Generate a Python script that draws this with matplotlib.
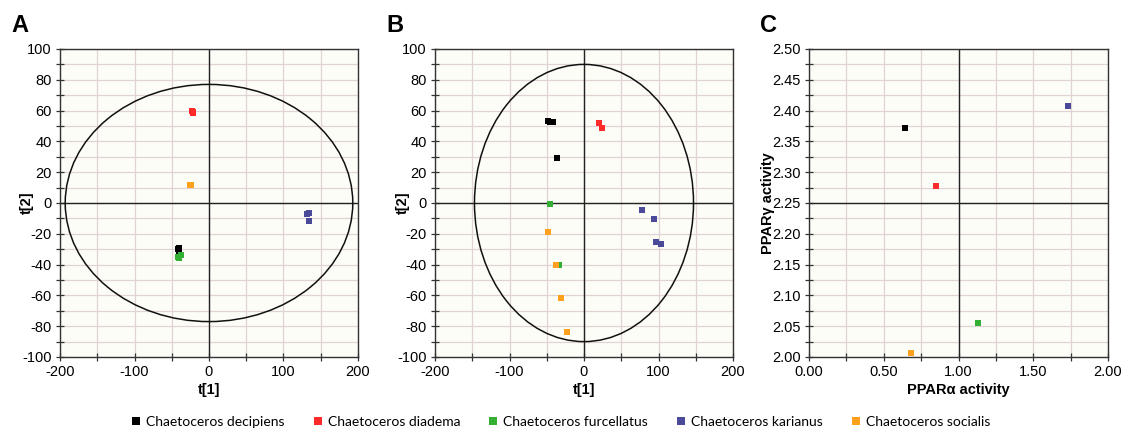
import matplotlib
matplotlib.use("Agg")
import matplotlib.pyplot as plt
from matplotlib.patches import Ellipse
from matplotlib.lines import Line2D
from matplotlib.ticker import MultipleLocator, FormatStrFormatter

species = ["Chaetoceros decipiens", "Chaetoceros diadema", "Chaetoceros furcellatus",
           "Chaetoceros karianus", "Chaetoceros socialis"]
colors = ["#000000", "#ff2a2a", "#33b033", "#4a4a98", "#ffa01e"]

# Panel A (PCA scores)
a_x = {
    "Chaetoceros decipiens": [-41, -40, -40],
    "Chaetoceros diadema": [-23, -21, -22],
    "Chaetoceros furcellatus": [-42, -38, -40, -37],
    "Chaetoceros karianus": [132, 134, 134],
    "Chaetoceros socialis": [-25, -24],
}
a_y = {
    "Chaetoceros decipiens": [-30, -29, -31],
    "Chaetoceros diadema": [60, 59, 58.5],
    "Chaetoceros furcellatus": [-35, -34, -35.5, -34],
    "Chaetoceros karianus": [-7, -6.5, -12],
    "Chaetoceros socialis": [12, 12],
}
a_ellipse = (193, 77)

# Panel B
b_x = {
    "Chaetoceros decipiens": [-48, -45, -41, -36],
    "Chaetoceros diadema": [20, 24],
    "Chaetoceros furcellatus": [-45, -33],
    "Chaetoceros karianus": [78, 94, 97, 103],
    "Chaetoceros socialis": [-48, -38, -31, -23],
}
b_y = {
    "Chaetoceros decipiens": [53, 52.5, 52.3, 29.3],
    "Chaetoceros diadema": [51.8, 48.4],
    "Chaetoceros furcellatus": [-0.9, -40],
    "Chaetoceros karianus": [-4.3, -10.4, -25.6, -26.5],
    "Chaetoceros socialis": [-18.9, -40.3, -61.6, -83.7],
}
b_ellipse = (147, 90)

# Panel C (PPAR activities)
c_x = [0.64, 0.852, 1.128, 1.730, 0.680]
c_y = [2.371, 2.277, 2.0553, 2.408, 2.007]

fig = plt.figure(figsize=(11.21, 4.32), dpi=100)
plt.rcParams['font.family'] = ['Liberation Sans', 'DejaVu Sans']

W = 298 / 1121
H = 308 / 432
B0 = 1 - 357 / 432
axA = fig.add_axes([60 / 1121, B0, W, H])
axB = fig.add_axes([435 / 1121, B0, W, H])
axC = fig.add_axes([809 / 1121, B0, 299 / 1121, H])

grid_c = "#e0d3d3"
bg = "#fdfdf7"


def style(ax, xlim, ylim, xmaj, xmin, ymaj, ymin, fmt_x, fmt_y):
    ax.set_facecolor(bg)
    ax.set_xlim(*xlim)
    ax.set_ylim(*ylim)
    ax.xaxis.set_major_locator(MultipleLocator(xmaj))
    ax.xaxis.set_minor_locator(MultipleLocator(xmin))
    ax.yaxis.set_major_locator(MultipleLocator(ymaj))
    ax.yaxis.set_minor_locator(MultipleLocator(ymin))
    ax.xaxis.set_major_formatter(FormatStrFormatter(fmt_x))
    ax.yaxis.set_major_formatter(FormatStrFormatter(fmt_y))
    ax.grid(True, which="both", color=grid_c, linewidth=0.9, zorder=0)
    ax.set_axisbelow(True)
    ax.tick_params(which="both", direction="inout", length=6, width=0.9, color="#333333",
                   labelsize=10.5, pad=3)
    for s in ax.spines.values():
        s.set_color("#333333")
        s.set_linewidth(1.0)


def place_labels(ax, xl, yl, ylx):
    ax.set_xlabel(xl, fontweight="bold", fontsize=10.5)
    ax.set_ylabel(yl, fontweight="bold", fontsize=10.5)
    ax.xaxis.set_label_coords(0.5, -0.107)
    ax.xaxis.label.set_va("center")
    ax.yaxis.set_label_coords(ylx, 0.5)
    ax.yaxis.label.set_va("center")


for ax in (axA, axB):
    style(ax, (-200, 200), (-100, 100), 100, 50, 20, 10, "%d", "%d")
    ax.axhline(0, color="#222222", lw=1.0, zorder=1)
    ax.axvline(0, color="#222222", lw=1.0, zorder=1)

place_labels(axA, "t[1]", "t[2]", -0.11)
place_labels(axB, "t[1]", "t[2]", -0.107)

axA.add_patch(Ellipse((0, 0), 2 * a_ellipse[0], 2 * a_ellipse[1], fill=False,
                      edgecolor="#111111", lw=1.1, zorder=2))
axB.add_patch(Ellipse((0, 0), 2 * b_ellipse[0], 2 * b_ellipse[1], fill=False,
                      edgecolor="#111111", lw=1.1, zorder=2))

for sp, col in zip(species, colors):
    axA.plot(a_x[sp], a_y[sp], "s", color=col, ms=5, mew=0, zorder=3)
    axB.plot(b_x[sp], b_y[sp], "s", color=col, ms=5, mew=0, zorder=3)

style(axC, (0, 2), (2.0, 2.5), 0.5, 0.25, 0.05, 0.025, "%.2f", "%.2f")
axC.axhline(2.25, color="#222222", lw=1.0, zorder=1)
axC.axvline(1.0, color="#222222", lw=1.0, zorder=1)
for xv, yv, col in zip(c_x, c_y, colors):
    axC.plot([xv], [yv], "s", color=col, ms=5, mew=0, zorder=3, clip_on=False)
place_labels(axC, "PPARα activity", "PPARγ activity", -0.137)

for lbl, xp in zip(["A", "B", "C"], [11, 386, 760]):
    fig.text(xp / 1121, 1 - 25 / 432, lbl, fontsize=17, fontweight="bold", va="center", ha="left")

handles = [Line2D([], [], marker="s", ls="", color=c, ms=6, mew=0) for c in colors]
fig.legend(handles, species, loc="center", bbox_to_anchor=(0.5, 1 - 422 / 432), ncol=5,
           frameon=False, prop={"family": "Lato", "size": 10}, handletextpad=0.3,
           columnspacing=2.0, handlelength=0.8)

fig.savefig("out.png", dpi=100)
